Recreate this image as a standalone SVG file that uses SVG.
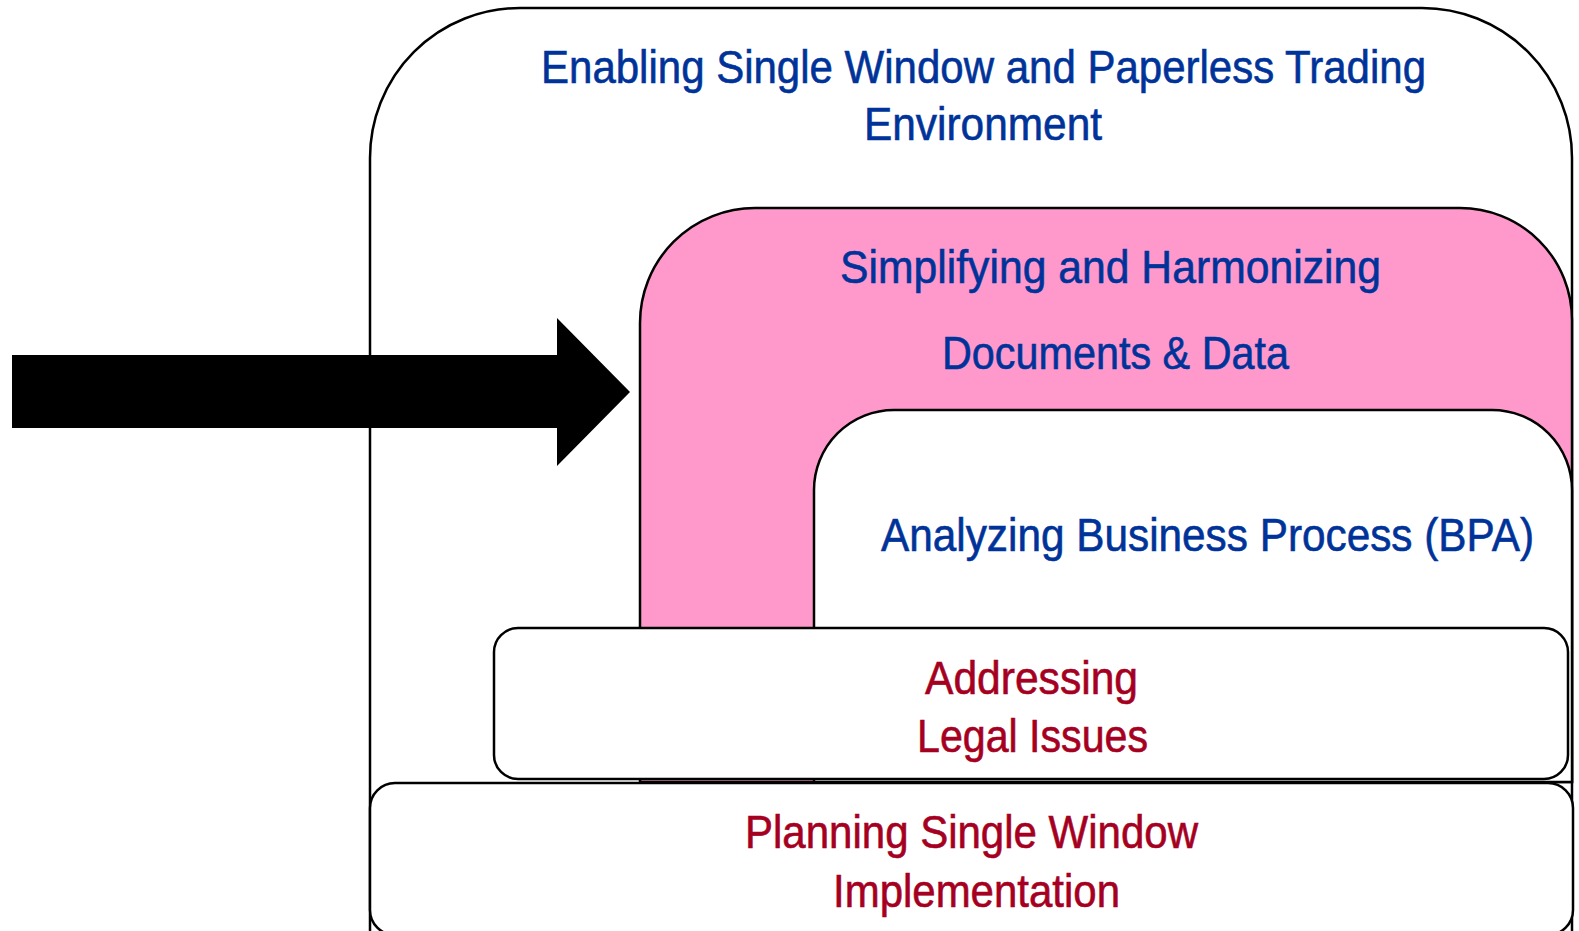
<svg xmlns="http://www.w3.org/2000/svg" width="1579" height="931" viewBox="0 0 1579 931">
  <style>
    .shape { stroke: #000; stroke-width: 2.5; }
    .blue { fill: #003399; stroke: #003399; stroke-width: 0.6; font-family: "Liberation Sans", Arial, sans-serif; font-size: 46px; text-anchor: middle; }
    .red { fill: #A50021; stroke: #A50021; stroke-width: 0.6; font-family: "Liberation Sans", Arial, sans-serif; font-size: 46px; text-anchor: middle; }
  </style>
  <rect width="1579" height="931" fill="#fff"/>
  <g id="outer">
    <path class="shape" fill="#fff" d="M370,940 V158 A150,150 0 0 1 520,8 H1422 A150,150 0 0 1 1572,158 V940"/>
    <text class="blue" x="983.5" y="83" textLength="885" lengthAdjust="spacingAndGlyphs">Enabling Single Window and Paperless Trading</text>
    <text class="blue" x="983" y="140" textLength="238" lengthAdjust="spacingAndGlyphs">Environment</text>
  </g>
  <g id="simplifying">
    <path class="shape" fill="#FF99CC" d="M640,782 V323 A115,115 0 0 1 755,208 H1460 A112,112 0 0 1 1572,320 V782 Z"/>
    <text class="blue" x="1110.5" y="283" textLength="541" lengthAdjust="spacingAndGlyphs">Simplifying and Harmonizing</text>
    <text class="blue" x="1115.5" y="369" textLength="347" lengthAdjust="spacingAndGlyphs">Documents &amp; Data</text>
  </g>
  <g id="analyzing">
    <path class="shape" fill="#fff" d="M814,782 V490 A80,80 0 0 1 894,410 H1492 A80,80 0 0 1 1572,490 V782 Z"/>
    <text class="blue" x="1207.5" y="551" textLength="653" lengthAdjust="spacingAndGlyphs">Analyzing Business Process (BPA)</text>
  </g>
  <g id="legal">
    <rect class="shape" fill="#fff" x="494" y="628" width="1074" height="151" rx="24" ry="24"/>
    <text class="red" x="1031.5" y="694" textLength="213" lengthAdjust="spacingAndGlyphs">Addressing</text>
    <text class="red" x="1032.5" y="752" textLength="231" lengthAdjust="spacingAndGlyphs">Legal Issues</text>
  </g>
  <g id="planning">
    <rect class="shape" fill="#fff" x="370" y="783" width="1203" height="152" rx="25" ry="25"/>
    <text class="red" x="971.5" y="848" textLength="453" lengthAdjust="spacingAndGlyphs">Planning Single Window</text>
    <text class="red" x="976.5" y="907" textLength="287" lengthAdjust="spacingAndGlyphs">Implementation</text>
  </g>
  <g id="connectors">
    <polygon fill="#000" points="12,355 557,355 557,318 630,392 557,466 557,428 12,428"/>
  </g>
</svg>
